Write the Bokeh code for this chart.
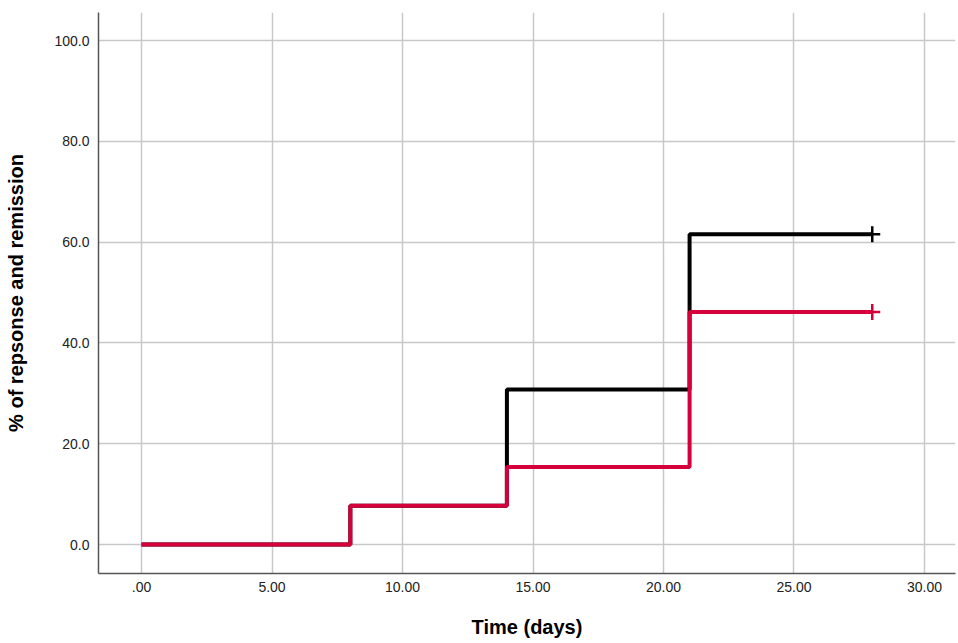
from bokeh.plotting import figure
from bokeh.models import FixedTicker, Range1d
from bokeh.embed import file_html
from bokeh.resources import INLINE

# Data
times = [0, 8, 14, 21, 28]
response = [0.0, 7.69, 30.77, 61.54, 61.54]
remission = [0.0, 7.69, 15.38, 46.15, 46.15]
censor_time = [28]
censor_response = [61.54]
censor_remission = [46.15]

x_ticks = [0, 5, 10, 15, 20, 25, 30]
x_labels = [".00", "5.00", "10.00", "15.00", "20.00", "25.00", "30.00"]
y_ticks = [0, 20, 40, 60, 80, 100]
y_labels = ["0.0", "20.0", "40.0", "60.0", "80.0", "100.0"]

FONT = "Liberation Sans"
RED = "#D5003B"

p = figure(width=958, height=643, output_backend="svg", toolbar_location=None,
           x_range=Range1d(-1.65, 31.19), y_range=Range1d(-5.75, 105.56),
           min_border_left=98, min_border_right=3, min_border_top=12, min_border_bottom=70)
p.outline_line_color = None
p.background_fill_color = "white"
p.border_fill_color = "white"

p.step(times, response, mode="after", line_color="black", line_width=4)
p.step(times, remission, mode="after", line_color=RED, line_width=4)
p.scatter(censor_time, censor_response, marker="cross", size=16, line_color="black", line_width=2.5)
p.scatter(censor_time, censor_remission, marker="cross", size=16, line_color=RED, line_width=2.5)

p.xaxis.ticker = FixedTicker(ticks=x_ticks)
p.yaxis.ticker = FixedTicker(ticks=y_ticks)
p.xaxis.major_label_overrides = {t: l for t, l in zip(x_ticks, x_labels)}
p.yaxis.major_label_overrides = {t: l for t, l in zip(y_ticks, y_labels)}

for ax in (p.xaxis, p.yaxis):
    ax.major_tick_out = 0
    ax.major_tick_in = 0
    ax.minor_tick_out = 0
    ax.minor_tick_in = 0
    ax.axis_line_color = "#555555"
    ax.axis_line_width = 1.5
    ax.major_label_text_font = FONT
    ax.major_label_text_font_size = "14px"
    ax.major_label_text_color = "#222222"
    ax.axis_label_text_font = FONT
    ax.axis_label_text_font_size = "20px"
    ax.axis_label_text_font_style = "bold"
    ax.axis_label_text_color = "black"

p.xaxis.axis_label = "Time (days)"
p.yaxis.axis_label = "% of repsonse and remission"
p.xaxis.major_label_standoff = 8
p.yaxis.major_label_standoff = 9
p.xaxis.axis_label_standoff = 21
p.yaxis.axis_label_standoff = 24

p.grid.grid_line_color = "#c8c8c8"
p.grid.grid_line_width = 1.5

open("out.html", "w").write(file_html(p, INLINE))
